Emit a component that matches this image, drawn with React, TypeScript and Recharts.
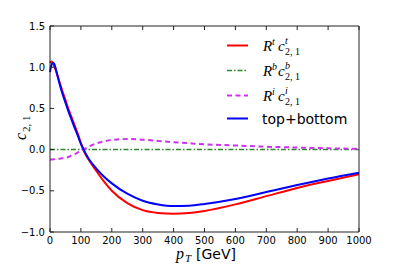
import { CartesianGrid, Legend, Line, LineChart, XAxis, YAxis } from 'recharts'

// transverse momentum grid (GeV)
const PT = [0, 5, 10, 15, 20, 30, 40, 50, 60, 70, 80, 90, 100, 110, 125, 150, 175, 200, 250, 300, 350, 400, 450, 500, 600, 700, 800, 900, 1000]

const TOP = [1.05, 1.07, 1.05, 1.0, 0.95, 0.83, 0.71, 0.6, 0.49, 0.39, 0.29, 0.19, 0.08, -0.02, -0.12, -0.26, -0.39, -0.5, -0.65, -0.735, -0.77, -0.78, -0.77, -0.745, -0.665, -0.565, -0.465, -0.38, -0.3]
const BOTTOM = [0, 0, 0, 0, 0, 0, 0, 0, 0, 0, 0, 0, 0, 0, 0, 0, 0, 0, 0, 0, 0, 0, 0, 0, 0, 0, 0, 0, 0]
const INTERF = [-0.12, -0.12, -0.118, -0.117, -0.115, -0.11, -0.105, -0.1, -0.09, -0.07, -0.055, -0.035, -0.015, 0.005, 0.035, 0.075, 0.1, 0.118, 0.128, 0.12, 0.105, 0.09, 0.077, 0.065, 0.05, 0.035, 0.025, 0.015, 0.01]
const SUM = [0.94, 1.03, 1.05, 1.03, 0.96, 0.81, 0.68, 0.57, 0.46, 0.36, 0.26, 0.17, 0.07, -0.01, -0.11, -0.23, -0.33, -0.41, -0.535, -0.62, -0.665, -0.685, -0.68, -0.66, -0.6, -0.515, -0.43, -0.35, -0.28]

const X_TICKS = [0, 100, 200, 300, 400, 500, 600, 700, 800, 900, 1000]
const Y_TICKS = [-1, -0.5, 0, 0.5, 1, 1.5]

const data = PT.map((pt, i) => ({
  pt,
  top: TOP[i],
  bottom: BOTTOM[i],
  interf: INTERF[i],
  sum: SUM[i],
}))

const SERIES = [
  { key: 'top', color: '#ff0000', dash: undefined, width: 2, sup: 't' },
  { key: 'bottom', color: '#2f8a2f', dash: '5 2 1.5 2', width: 1.5, sup: 'b' },
  { key: 'interf', color: '#cc33ee', dash: '5 3.5', width: 2, sup: 'i' },
  { key: 'sum', color: '#0000ff', dash: undefined, width: 2, sup: null },
]

const tickFont = { fontFamily: 'DejaVu Sans', fontSize: 10, fill: '#000' }
const mathFont = 'Liberation Serif'

const fmtY = (v: number) => v.toFixed(1).replace('-', '\u2212')

function MathLegend() {
  const rows = [45.5, 70.5, 95.5, 118.5]
  return (
    <svg width={180} height={140} style={{ overflow: 'visible' }}>
      {SERIES.map((s, i) => {
        const cy = rows[i] - 30
        return (
          <g key={s.key}>
            <line x1={7} x2={28} y1={cy} y2={cy} stroke={s.color} strokeWidth={s.width} strokeDasharray={s.dash} />
            {s.sup ? (
              <text fontFamily={mathFont} fill="#000">
                <tspan x={43} y={cy + 5} fontSize={15} fontStyle="italic">R</tspan>
                <tspan x={52} y={cy - 1} fontSize={10} fontStyle="italic">{s.sup}</tspan>
                <tspan x={58} y={cy + 5} fontSize={15} fontStyle="italic">c</tspan>
                <tspan x={65} y={cy - 2} fontSize={10} fontStyle="italic">{s.sup}</tspan>
                <tspan x={65} y={cy + 9} fontSize={10}>2, 1</tspan>
              </text>
            ) : (
              <text x={42} y={cy + 5} fontFamily="DejaVu Sans" fontSize={14} fill="#000">
                top+bottom
              </text>
            )}
          </g>
        )
      })}
    </svg>
  )
}

export default function App() {
  return (
    <div style={{ position: 'relative', width: 399, height: 266, background: '#fff' }}>
      <style>{'body{margin:0}'}</style>
      <LineChart width={399} height={266} data={data} margin={{ top: 25, right: 39, bottom: 4, left: 10 }}>
        <CartesianGrid stroke="none" />
        <XAxis
          dataKey="pt"
          type="number"
          domain={[0, 1000]}
          ticks={X_TICKS}
          interval={0}
          height={30}
          tickSize={-4}
          tickMargin={9}
          tick={tickFont}
          stroke="#222"
          tickLine={{ stroke: '#222' }}
        />
        <XAxis
          xAxisId="top"
          orientation="top"
          dataKey="pt"
          type="number"
          domain={[0, 1000]}
          ticks={X_TICKS}
          interval={0}
          height={1}
          tickSize={-4}
          tick={() => <g />}
          stroke="#222"
        />
        <YAxis
          type="number"
          domain={[-1, 1.5]}
          ticks={Y_TICKS}
          interval={0}
          width={40}
          tickSize={-4}
          tickMargin={9}
          tick={tickFont}
          tickFormatter={fmtY}
          stroke="#222"
        />
        <YAxis
          yAxisId="right"
          orientation="right"
          type="number"
          domain={[-1, 1.5]}
          ticks={Y_TICKS}
          interval={0}
          width={1}
          tickSize={-4}
          tick={() => <g />}
          stroke="#222"
        />
        {SERIES.map((s) => (
          <Line
            key={s.key}
            dataKey={s.key}
            type="monotone"
            stroke={s.color}
            strokeWidth={s.width}
            strokeDasharray={s.dash}
            dot={false}
            activeDot={false}
            isAnimationActive={false}
          />
        ))}
        <Legend
          layout="horizontal"
          verticalAlign="middle"
          content={() => <MathLegend />}
          wrapperStyle={{ left: 220, top: 30, width: 180, height: 140 }}
        />
      </LineChart>
      <svg width={399} height={266} style={{ position: 'absolute', left: 0, top: 0, pointerEvents: 'none' }}>
        <g transform="translate(26,140) rotate(-90)">
          <text fontFamily={mathFont} fill="#000">
            <tspan x={0} y={0} fontSize={16} fontStyle="italic">c</tspan>
            <tspan x={8} y={4} fontSize={11}>2, 1</tspan>
          </text>
        </g>
        <text fontFamily={mathFont} fill="#000">
          <tspan x={176} y={259} fontSize={16} fontStyle="italic">p</tspan>
          <tspan x={185} y={262} fontSize={11} fontStyle="italic">T</tspan>
        </text>
        <text x={196} y={259} fontFamily="DejaVu Sans" fontSize={14} fill="#000">
          [GeV]
        </text>
      </svg>
    </div>
  )
}
